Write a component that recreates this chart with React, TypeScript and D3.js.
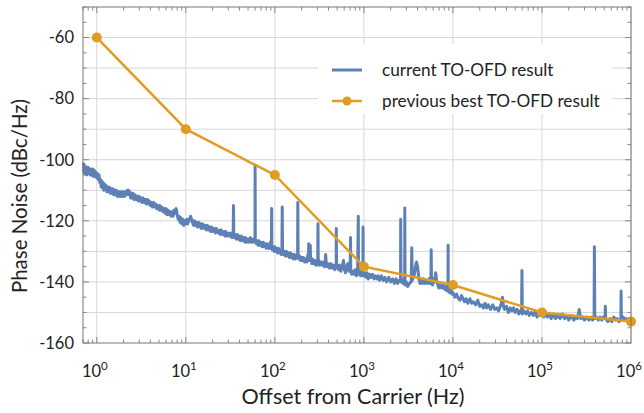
import { useEffect, useRef } from "react";
import * as d3 from "d3";

// previous best TO-OFD result (decade points)
const prevFreq = [1, 10, 100, 1e3, 1e4, 1e5, 1e6];
const prevNoise = [-60, -90, -105, -135, -141, -150, -153];

// current TO-OFD result, [offset Hz, dBc/Hz]
const currentTrace: [number, number][] = [
  [0.71, -101], [0.715, -104], [0.72, -102.5], [0.73, -104.5], [0.74, -102], [0.75, -104],
  [0.76, -102.5], [0.77, -105], [0.78, -103], [0.79, -104.5], [0.8, -102.5], [0.81, -104],
  [0.83, -103], [0.84, -105], [0.86, -103], [0.88, -105], [0.9, -103], [0.91, -105.5],
  [0.94, -103.5], [0.96, -105.5], [0.97, -104], [1.0, -106], [1.02, -104.5], [1.04, -106.5],
  [1.06, -105], [1.08, -107.5], [1.1, -106.5], [1.12, -109], [1.14, -107], [1.16, -108.5],
  [1.18, -107.5], [1.2, -110], [1.23, -108], [1.25, -109.5], [1.28, -108.5], [1.3, -110.5],
  [1.33, -109], [1.36, -110.5], [1.39, -109], [1.42, -111], [1.45, -109.5], [1.48, -111],
  [1.52, -109.5], [1.55, -111.5], [1.59, -110], [1.62, -111.5], [1.66, -110], [1.7, -112],
  [1.74, -110.5], [1.78, -112], [1.82, -110.5], [1.86, -112], [1.9, -110.5], [1.95, -112],
  [2.0, -110.5], [2.05, -112], [2.1, -110.5], [2.15, -111.5], [2.2, -110], [2.26, -110],
  [2.3, -111.5], [2.35, -110.5], [2.4, -112.5], [2.45, -111], [2.5, -112.5], [2.55, -111],
  [2.62, -113], [2.7, -111.5], [2.77, -113], [2.85, -112], [2.92, -113.5], [3.0, -112],
  [3.08, -113.5], [3.15, -112.5], [3.22, -114], [3.3, -112.5], [3.4, -114], [3.5, -113],
  [3.6, -114.5], [3.7, -113], [3.8, -114.5], [3.9, -113.5], [4.0, -115], [4.1, -114],
  [4.22, -115.5], [4.35, -114], [4.47, -115.5], [4.6, -114.5], [4.72, -116], [4.85, -115],
  [5.0, -116.5], [5.1, -115], [5.25, -116.5], [5.4, -115.5], [5.55, -117], [5.7, -116],
  [5.85, -117.5], [6.0, -116], [6.15, -118], [6.3, -116.5], [6.5, -118], [6.7, -117],
  [6.85, -118.5], [7.0, -117], [7.2, -118.5], [7.4, -116.5], [7.6, -117.5], [7.8, -116],
  [8.0, -118], [8.2, -119.5], [8.4, -118.5], [8.6, -120.5], [8.8, -119], [9.0, -121],
  [9.25, -119.5], [9.5, -121.5], [9.75, -120], [10, -121], [10.25, -119.5], [10.5, -121],
  [10.8, -119.5], [11, -120], [11.3, -118.5], [11.6, -119.5], [11.9, -120.5], [12.2, -121.5],
  [12.5, -120], [12.8, -121.5], [13.2, -120.5], [13.5, -122], [14, -120.5], [14.3, -122],
  [14.7, -121], [15, -122.5], [15.5, -121], [16, -122.5], [16.5, -121.5], [17, -123],
  [17.5, -121.5], [18, -123], [18.5, -122], [19, -123.5], [19.5, -122], [20, -123.5],
  [21, -122.5], [21.5, -124], [22, -122.5], [23, -124], [24, -123], [24.5, -124.5],
  [25, -123], [26, -124.5], [27, -123.5], [27.5, -125], [28, -123.5], [29, -125],
  [30, -124], [31, -125], [32, -124], [33, -125.5], [34, -124.5], [34.3, -115],
  [34.6, -124.5], [35, -125.5], [36, -124.5], [37, -126], [38, -124.5], [39, -126],
  [40, -125], [41, -126.5], [42, -125], [43.5, -126.5], [44.5, -125.5], [46, -127],
  [47, -125.5], [48.5, -127], [50, -126], [51.5, -127], [53, -125.5], [54.5, -127],
  [56, -126], [57.5, -127], [58.5, -126], [59.8, -126.5], [60, -102], [60.3, -126.5],
  [62, -127.5], [63, -126.5], [65, -128], [66, -126.5], [68, -128], [70, -127],
  [72, -128.5], [74, -127], [76, -128.5], [78, -127.5], [80, -129], [82, -127.5],
  [84, -129], [86, -128], [88, -129], [89, -127], [90.5, -129], [91.5, -128], [92, -116],
  [92.5, -128.5], [94, -129.5], [96, -128.5], [98, -130], [100, -128.5], [102, -130],
  [104, -129], [107, -130.5], [110, -129], [113, -130.5], [116, -129.5], [118, -131],
  [120, -129.5], [121, -115.5], [122, -130], [125, -131], [128, -130], [131, -131.5],
  [135, -130], [138, -131.5], [142, -130.5], [146, -132], [150, -130.5], [154, -132],
  [158, -131], [162, -132.5], [166, -131], [170, -132.5], [175, -131.5], [180, -132],
  [181, -114], [182.5, -132], [186, -132.5], [190, -131.5], [195, -133], [200, -132],
  [205, -133], [210, -132], [216, -133.5], [222, -132.5], [228, -133.5], [235, -131],
  [238, -133], [240, -127.5], [242, -133], [245, -132], [250, -128], [252, -133],
  [255, -132.5], [260, -134], [265, -132.5], [272, -134], [280, -133], [288, -134.5],
  [295, -133], [300, -134.5], [303, -133.5], [305, -121], [307, -134], [313, -133],
  [320, -134.5], [330, -133.5], [340, -134.5], [350, -133.5], [360, -135], [367, -133.5],
  [372, -131], [378, -134], [385, -135], [395, -134], [410, -135.5], [425, -134],
  [440, -135.5], [455, -134.5], [470, -136], [480, -134.5], [488, -135.5], [490, -122.5],
  [493, -135.5], [505, -134.5], [520, -136], [535, -134.5], [550, -136.5], [570, -135],
  [590, -133], [605, -136], [620, -137], [640, -135], [660, -134], [680, -136.5],
  [700, -136], [708, -125.5], [712, -136.5], [730, -137.5], [750, -136.5], [775, -137.5],
  [800, -136], [825, -138], [850, -137], [865, -118.5], [870, -137.5], [895, -136.5],
  [920, -138], [945, -136.5], [975, -138], [978, -122], [982, -138], [1010, -137],
  [1050, -138.5], [1085, -137], [1120, -139], [1160, -137.5], [1200, -138.5], [1250, -137.5],
  [1300, -139], [1350, -138], [1400, -139], [1450, -138], [1500, -139.5], [1570, -138],
  [1650, -139.5], [1720, -138.5], [1800, -140], [1900, -138.5], [2000, -140], [2100, -139],
  [2200, -140.5], [2300, -139], [2400, -140.5], [2500, -139.5], [2580, -140], [2590, -119.5],
  [2610, -140], [2680, -139], [2750, -140.5], [2810, -139.5], [2870, -140], [2880, -115.8],
  [2900, -141], [3000, -140], [3100, -141.5], [3250, -140.5], [3400, -140], [3450, -128.8],
  [3500, -139.5], [3600, -138], [3700, -137.5], [3800, -135], [3900, -133.5], [4000, -135],
  [4080, -137], [4150, -139], [4270, -140.5], [4400, -139.5], [4550, -140.5], [4700, -139],
  [4850, -140.5], [5000, -139.5], [5200, -140.5], [5400, -139], [5550, -140.5], [5650, -140],
  [5700, -129.5], [5750, -140], [5900, -141], [6100, -139], [6250, -140], [6400, -137],
  [6550, -139.5], [6700, -140.5], [6950, -142], [7200, -141], [7500, -142], [7800, -141],
  [8100, -142.5], [8400, -141.5], [8600, -143], [8800, -142.5], [8830, -128], [8860, -142],
  [9150, -143.5], [9500, -142.5], [9750, -144], [10000, -143.5], [10500, -145], [11000, -144],
  [11500, -145.5], [12000, -146], [12500, -144.5], [13000, -145.5], [13500, -146.5], [14000, -145.5],
  [14700, -147], [15500, -145.5], [16200, -147], [17000, -146.5], [18000, -147.5], [19000, -146],
  [20000, -148], [21000, -147.5], [22000, -148.5], [23000, -147], [24000, -148.5], [25000, -147.5],
  [26500, -149], [28000, -147.5], [29500, -149], [31000, -148.5], [32500, -149.5], [34000, -148],
  [35000, -147], [36000, -145], [37000, -148], [38000, -149], [40000, -148], [42000, -150],
  [44000, -148.5], [46000, -149.5], [48000, -148.5], [50000, -150], [52500, -149], [55000, -150.5],
  [57000, -149.5], [59000, -150], [59600, -136.3], [60200, -150.5], [63000, -149.5], [66000, -150.5],
  [69000, -149.5], [72000, -151], [76000, -150], [80000, -151], [84000, -149.5], [88000, -151.5],
  [91000, -150], [95000, -151], [100000, -150.5], [105000, -151.5], [110000, -150], [115000, -151.5],
  [120000, -150.5], [127000, -152], [135000, -150.5], [142000, -152], [150000, -151], [160000, -152],
  [170000, -150.5], [180000, -152], [190000, -151], [200000, -152.5], [215000, -151], [228000, -152.5],
  [240000, -151.5], [250000, -152], [262000, -149], [272000, -152], [285000, -151.5], [300000, -152.5],
  [320000, -151.5], [337000, -152.5], [355000, -151.5], [370000, -152.5], [385000, -151], [388000, -128.5],
  [392000, -152], [410000, -151.5], [430000, -152.5], [450000, -151.5], [470000, -152.5], [490000, -151.5],
  [510000, -152], [515000, -148], [520000, -152], [550000, -153], [580000, -152], [610000, -153],
  [640000, -151.5], [670000, -152.5], [700000, -152], [735000, -153], [770000, -152], [774000, -143],
  [780000, -152.5], [815000, -151.5], [850000, -152.5], [885000, -152], [920000, -153], [960000, -152],
  [1000000, -152.5],
];

const xDecades = [0, 1, 2, 3, 4, 5, 6];
const yLabels = [-160, -140, -120, -100, -80, -60];
const legendLabels = ["current TO-OFD result", "previous best TO-OFD result"];

const BLUE = "#5e81b5";
const ORANGE = "#e19c24";
const FONT = "Lato, 'Open Sans', sans-serif";

const App = () => {
  const svgRef = useRef(null);
  const width = 644;
  const height = 413;
  const plot = { left: 83, right: 631, top: 7, bottom: 343 };

  useEffect(() => {
    const svg = d3.select(svgRef.current);
    svg.selectAll("*").remove();

    const x = d3.scaleLog().domain([0.7, 1e6]).range([plot.left, plot.right]);
    const y = d3.scaleLinear().domain([-160, -50]).range([plot.bottom, plot.top]);

    const g = svg.append("g");

    // grid
    g.selectAll(".hgrid")
      .data(d3.range(-150, -50, 10))
      .enter()
      .append("line")
      .attr("x1", plot.left)
      .attr("x2", plot.right)
      .attr("y1", (d) => y(d))
      .attr("y2", (d) => y(d))
      .attr("stroke", "#d6d6d6")
      .attr("stroke-width", 1);

    g.selectAll(".vgrid")
      .data(xDecades)
      .enter()
      .append("line")
      .attr("x1", (d) => x(Math.pow(10, d)))
      .attr("x2", (d) => x(Math.pow(10, d)))
      .attr("y1", plot.top)
      .attr("y2", plot.bottom)
      .attr("stroke", "#d6d6d6")
      .attr("stroke-width", 1);

    // ticks on every side, pointing inward
    const minorX: number[] = [];
    for (let e = -1; e < 6; e++) {
      for (let m = 1; m < 10; m++) {
        const v = m * Math.pow(10, e);
        if (v >= 0.7 && v <= 1e6) minorX.push(v);
      }
    }
    const tickColor = "#888";
    minorX.forEach((v) => {
      const major = Math.abs(Math.log10(v) - Math.round(Math.log10(v))) < 1e-9;
      const len = major ? 6 : 3.5;
      g.append("line")
        .attr("x1", x(v)).attr("x2", x(v))
        .attr("y1", plot.bottom).attr("y2", plot.bottom - len)
        .attr("stroke", tickColor);
      g.append("line")
        .attr("x1", x(v)).attr("x2", x(v))
        .attr("y1", plot.top).attr("y2", plot.top + len)
        .attr("stroke", tickColor);
    });
    d3.range(-160, -49, 5).forEach((v) => {
      const len = v % 20 === 0 ? 6 : 3.5;
      g.append("line")
        .attr("x1", plot.left).attr("x2", plot.left + len)
        .attr("y1", y(v)).attr("y2", y(v))
        .attr("stroke", tickColor);
      g.append("line")
        .attr("x1", plot.right).attr("x2", plot.right - len)
        .attr("y1", y(v)).attr("y2", y(v))
        .attr("stroke", tickColor);
    });

    // legend backdrop hides the grid
    g.append("rect")
      .attr("x", 318)
      .attr("y", 44)
      .attr("width", 294)
      .attr("height", 70)
      .attr("fill", "#fff");

    // current trace
    const line = d3
      .line<[number, number]>()
      .x((d) => x(d[0]))
      .y((d) => y(d[1]));

    g.append("path")
      .datum(currentTrace)
      .attr("d", line)
      .attr("fill", "none")
      .attr("stroke", BLUE)
      .attr("stroke-width", 3)
      .attr("stroke-linejoin", "round");

    // previous best
    const prev = prevFreq.map((f, i) => [f, prevNoise[i]] as [number, number]);
    g.append("path")
      .datum(prev)
      .attr("d", line)
      .attr("fill", "none")
      .attr("stroke", ORANGE)
      .attr("stroke-width", 2.5);
    g.selectAll(".pt")
      .data(prev)
      .enter()
      .append("circle")
      .attr("cx", (d) => x(d[0]))
      .attr("cy", (d) => y(d[1]))
      .attr("r", 5)
      .attr("fill", ORANGE);

    // frame
    g.append("rect")
      .attr("x", plot.left)
      .attr("y", plot.top)
      .attr("width", plot.right - plot.left)
      .attr("height", plot.bottom - plot.top)
      .attr("fill", "none")
      .attr("stroke", "#777")
      .attr("stroke-width", 1);

    // x tick labels
    const xl = g
      .selectAll(".xlab")
      .data(xDecades)
      .enter()
      .append("text")
      .attr("x", (d) => x(Math.pow(10, d)) - 2)
      .attr("y", 377)
      .attr("text-anchor", "middle")
      .style("font-family", FONT)
      .style("font-size", "16.5px")
      .attr("fill", "#222");
    xl.append("tspan").text("10");
    xl.append("tspan")
      .attr("dy", -7)
      .style("font-size", "11.5px")
      .text((d) => d);

    // y tick labels
    g.selectAll(".ylab")
      .data(yLabels)
      .enter()
      .append("text")
      .attr("x", 74)
      .attr("y", (d) => y(d))
      .attr("dy", "0.35em")
      .attr("text-anchor", "end")
      .style("font-family", FONT)
      .style("font-size", "16.5px")
      .attr("fill", "#222")
      .text((d) => d);

    // axis titles
    g.append("text")
      .attr("x", 353)
      .attr("y", 404)
      .attr("text-anchor", "middle")
      .style("font-family", FONT)
      .style("font-size", "21.5px")
      .attr("fill", "#222")
      .text("Offset from Carrier (Hz)");

    g.append("text")
      .attr("transform", "translate(27," + 196 + ") rotate(-90)")
      .attr("text-anchor", "middle")
      .style("font-family", FONT)
      .style("font-size", "20.5px")
      .attr("fill", "#222")
      .text("Phase Noise (dBc/Hz)");

    // legend
    const legendG = g
      .selectAll(".legend")
      .data(legendLabels)
      .enter()
      .append("g")
      .attr("transform", (d, i) => "translate(332," + (70 + i * 31) + ")");

    legendG
      .append("line")
      .attr("x1", 0)
      .attr("x2", 30)
      .attr("stroke", (d, i) => (i === 0 ? BLUE : ORANGE))
      .attr("stroke-width", (d, i) => (i === 0 ? 3 : 2.5));
    legendG
      .filter((d, i) => i === 1)
      .append("circle")
      .attr("cx", 15)
      .attr("r", 4.5)
      .attr("fill", ORANGE);
    legendG
      .append("text")
      .attr("x", 50)
      .attr("dy", "0.35em")
      .style("font-family", FONT)
      .style("font-size", "17.2px")
      .attr("fill", "#222")
      .text((d) => d);
  }, []);

  return (
    <svg
      ref={svgRef}
      width={width}
      height={height}
      style={{ position: "absolute", left: 0, top: 0, background: "#fff" }}
    />
  );
};

export default App;
